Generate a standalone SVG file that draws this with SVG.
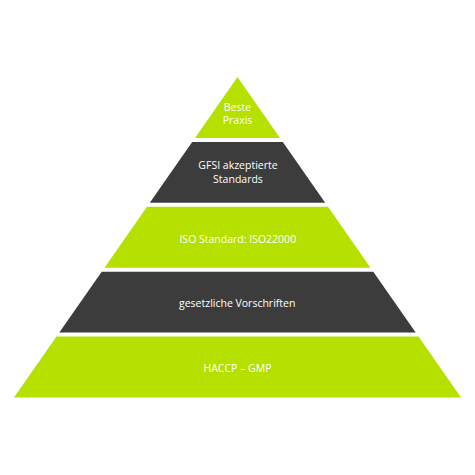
<svg xmlns="http://www.w3.org/2000/svg" width="475" height="475" viewBox="0 0 475 475">
<style>
.g{fill:#b5e000}
.d{fill:#3c3c3c}
text{font-family:"Open Sans","Noto Sans",sans-serif;font-size:10.5px;fill:#ffffff;text-anchor:middle}
</style>
<rect width="475" height="475" fill="#ffffff"/>
<g id="layer1">
<polygon class="g" points="237.5,77 280,137.9 195,137.9"/>
<text x="237.5" y="111">Beste</text>
<text x="237.5" y="124">Praxis</text>
</g>
<g id="layer2">
<polygon class="d" points="192.2,141.9 282.8,141.9 325.2,202.8 149.8,202.8"/>
<text x="238" y="169">GFSI akzeptierte</text>
<text x="238" y="182.5">Standards</text>
</g>
<g id="layer3">
<polygon class="g" points="147,206.8 328,206.8 370.5,267.7 104.5,267.7"/>
<text x="237.8" y="242.5">ISO Standard: ISO22000</text>
</g>
<g id="layer4">
<polygon class="d" points="101.7,271.7 373.3,271.7 415.7,332.6 59.3,332.6"/>
<text x="237.2" y="306.5">gesetzliche Vorschriften</text>
</g>
<g id="layer5">
<polygon class="g" points="56.5,336.6 418.5,336.6 461,397.5 14,397.5"/>
<text x="237.5" y="371.5">HACCP – GMP</text>
</g>
<g id="connectors"></g>
</svg>
